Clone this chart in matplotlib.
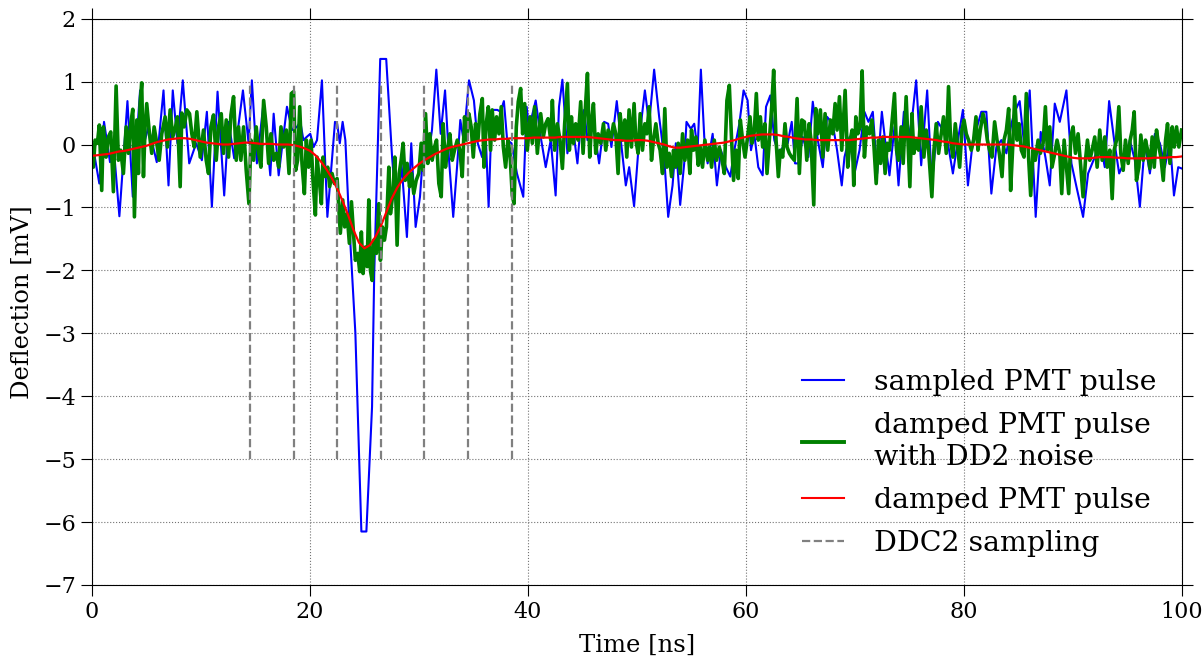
import numpy as np
import matplotlib
matplotlib.use("Agg")
import matplotlib.pyplot as plt
from matplotlib.lines import Line2D

plt.rcParams['font.family'] = 'serif'
plt.rcParams['font.serif'] = ['DejaVu Serif']

# sampled PMT pulse (vertices), time in ns, deflection in mV
blue_t = [0.0, 0.67, 1.10, 1.65, 1.96, 2.51, 3.25, 3.74, 4.41, 4.78, 5.18, 5.94, 6.56, 7.02, 7.41, 7.84,
          8.33, 8.92, 9.56, 10.08, 10.54, 11.00, 11.52, 12.13, 12.53, 13.05, 13.85, 14.37, 14.67, 15.13,
          15.75, 16.36, 16.67, 17.13, 17.89, 18.35, 18.81, 19.12, 19.40, 19.70, 20.03, 20.34, 20.65,
          21.10, 21.60, 22.30, 22.50, 22.74, 23.00, 23.25, 23.56, 24.17, 24.72, 25.18, 25.70, 25.90,
          26.20, 26.45, 27.00, 27.54, 27.98, 28.40, 28.90, 29.30, 29.70, 30.10, 30.45, 30.76, 31.20,
          31.60, 32.00, 32.40, 32.75, 33.15, 33.50, 33.80, 34.10, 34.60, 35.05, 35.40, 35.80, 36.10,
          36.40, 36.70, 37.20, 37.50, 37.80, 38.10, 38.50, 39.00, 39.58, 39.89, 40.10, 40.72, 41.18,
          41.64, 42.10, 42.55, 42.86, 43.17, 43.63, 44.09, 44.55, 44.85, 45.16, 45.47, 45.93, 46.54,
          47.00, 47.37, 47.67, 48.16, 48.53, 48.99, 49.30, 49.75, 50.21, 50.74, 51.13, 51.59, 52.05,
          52.51, 52.88, 53.28, 53.58, 53.98, 54.35, 54.56, 54.96, 55.27, 55.58, 55.88, 56.19, 56.50,
          56.96, 57.35, 57.72, 58.18, 58.58, 58.95, 59.41, 59.80, 60.17, 60.48, 60.78, 61.15, 61.55,
          61.86, 62.25, 62.62, 63.08, 63.54, 63.85, 64.22, 64.52, 64.83, 65.23, 65.75, 66.15, 66.61,
          67.07, 67.46, 67.98, 68.38, 68.81, 69.06, 69.52, 69.98, 70.44, 70.89, 71.26, 71.66, 72.06,
          72.49, 72.89, 73.19, 73.65, 74.02, 74.51, 74.88, 75.25, 75.64, 76.10, 76.65, 77.08, 77.63,
          78.09, 78.55, 79.01, 79.47, 79.93, 80.39, 80.85, 81.31, 81.62, 82.08, 82.54, 83.00, 83.46,
          83.92, 84.38, 84.68, 85.14, 85.60, 86.06, 86.61, 87.07, 87.50, 87.90, 88.36, 88.82, 89.43,
          89.89, 90.35, 90.96, 91.42, 92.03, 92.49, 92.95, 93.35, 93.81, 94.27, 94.79, 95.25, 95.71,
          96.17, 96.63, 97.09, 97.55, 98.01, 98.47, 98.93, 99.30, 99.69, 100.0]
blue_v = [0.05, -0.62, 0.36, -0.28, 0.02, -1.14, 0.69, -0.83, 0.86, 0.02, 0.28, -0.28, 0.86, -0.65, 0.86, 0.02,
          1.02, -0.30, 0.02, -0.25, 0.52, -0.99, 0.84, -0.81, 0.36, -0.22, 0.86, 0.02, 1.02, -0.30,
          0.68, -0.49, 0.49, -0.49, 0.60, 0.23, 0.28, 0.36, 0.07, 0.12, 0.17, -0.04, 0.07,
          1.02, -1.15, 0.36, 0.33, 0.02, 0.36, 0.07, -1.10, -3.00, -6.15, -6.15, -4.17, -2.05,
          -0.20, 1.36, 1.36, -0.20, -1.15, -0.30, -1.47, 0.02, -1.31, -0.83, 0.02, -0.30, 0.23,
          1.19, 0.17, 0.86, -0.20, -1.15, -0.36, 0.39, 0.07, 1.02, 0.70, 0.02, -0.20, 0.28,
          -0.99, 0.55, 0.55, 0.52, 0.69, 0.07, 0.02, -0.46, -0.83, 0.60, 0.25, 0.70, 0.12,
          -0.36, 0.07, -0.81, 0.60, 1.03, -0.14, 0.33, -0.30, 0.33, 0.55, 0.07, 0.44, -0.30,
          0.36, 0.33, -0.04, 0.69, 0.07, -0.65, -0.36, -0.98, 0.07, 0.86, 0.33, 1.19, 0.44,
          -0.20, -1.15, -0.65, 0.02, -0.96, -0.30, 0.36, 0.25, 0.33, -0.09, 1.19, 0.12, -0.30,
          0.17, -0.65, -0.09, -0.36, -0.51, -0.09, 0.33, 0.86, 0.70, -0.09, 0.17, -0.36, -0.49,
          0.60, 0.78, 0.07, -0.17, 0.02, 0.02, 0.36, -0.30, -0.30, 0.12, -0.20, 0.68, 0.07,
          -0.36, 0.44, 0.33, -0.09, -0.65, -0.20, 0.12, -0.46, -0.09, 0.52, 0.36, 0.52, -0.46,
          0.52, -0.09, -0.49, 0.28, -0.65, 0.52, 0.07, 0.39, 1.02, -0.33, 0.86, -0.62, 0.36,
          0.23, 0.02, -0.46, 0.07, 0.55, -0.65, 0.07, 0.33, 0.52, 0.52, -0.78, -0.04, 0.07,
          -0.14, 0.33, 0.52, 0.69, -0.09, 0.86, -1.15, 0.20, -0.20, -0.65, 0.65, 0.36, 0.86,
          -0.30, -0.67, -1.15, -0.46, -0.20, 0.07, -0.36, 0.69, 0.07, -0.46, -0.25, 0.07, -0.25,
          -0.99, 0.02, -0.46, 0.17, 0.02, -0.36, 0.07, -0.81, -0.36, -0.38]

# damped PMT pulse with DD2 noise
green_t = [0.0, 0.12, 0.28, 0.49, 0.67, 0.89, 1.04, 1.29, 1.50, 1.72, 1.96, 2.21, 2.42, 2.63, 2.88, 3.13,
           3.34, 3.55, 3.74, 3.89, 4.11, 4.26, 4.41, 4.56, 4.72, 4.87, 5.02, 5.27, 5.48, 5.70, 5.94,
           6.16, 6.40, 6.71, 6.92, 7.17, 7.41, 7.66, 7.84, 8.09, 8.24, 8.46, 8.70, 8.95, 9.16, 9.38,
           9.62, 9.93, 10.23, 10.48, 10.69, 10.91, 11.15, 11.40, 11.61, 11.86, 12.07, 12.32, 12.53,
           12.75, 12.99, 13.24, 13.45, 13.66, 13.91, 14.15, 14.40, 14.58, 14.83, 15.07, 15.29, 15.50,
           15.75, 15.99, 16.21, 16.42, 16.67, 16.91, 17.13, 17.34, 17.59, 17.83, 18.08, 18.29, 18.50,
           18.69, 18.87, 19.06, 19.27, 19.49, 19.67, 19.88, 20.10, 20.28, 20.50, 20.65, 20.86, 21.05,
           21.20, 21.41, 21.63, 21.81, 22.03, 22.24, 22.49, 22.64, 22.79, 23.01, 23.19, 23.41, 23.62,
           23.81, 24.02, 24.17, 24.39, 24.57, 24.72, 24.88, 25.09, 25.25, 25.40, 25.55, 25.71, 25.86,
           26.10, 26.32, 26.47, 26.65, 26.84, 27.02, 27.24, 27.39, 27.61, 27.79, 28.00, 28.19, 28.37,
           28.55, 28.74, 28.92, 29.14, 29.32, 29.53, 29.75, 29.99, 30.21, 30.39, 30.61, 30.82, 31.00,
           31.22, 31.43, 31.62, 31.83, 32.05, 32.23, 32.44, 32.66, 32.84, 33.06, 33.27, 33.52, 33.76,
           33.98, 34.19, 34.38, 34.59, 34.80, 34.99, 35.20, 35.42, 35.60, 35.82, 35.97, 36.18, 36.37,
           36.58, 36.73, 36.95, 37.13, 37.35, 37.56, 37.75, 37.96, 38.17, 38.36, 38.57, 38.73, 38.94,
           39.12, 39.34, 39.52, 39.71, 39.95, 40.20, 40.41, 40.62, 40.87, 41.18, 41.42, 41.64, 41.85,
           42.10, 42.25, 42.46, 42.71, 42.95, 43.17, 43.38, 43.63, 43.81, 44.00, 44.18, 44.39, 44.61,
           44.85, 45.07, 45.25, 45.47, 45.68, 45.86, 46.02, 46.23, 46.45, 46.69, 46.94, 47.15, 47.37,
           47.61, 47.86, 48.07, 48.28, 48.47, 48.68, 48.90, 49.08, 49.29, 49.51, 49.75, 49.91, 50.12,
           50.31, 50.52, 50.74, 50.92, 51.13, 51.35, 51.53, 51.75, 51.96, 52.14, 52.36, 52.57, 52.76,
           52.97, 53.19, 53.37, 53.58, 53.80, 53.98, 54.20, 54.41, 54.66, 54.87, 55.02, 55.21, 55.42,
           55.64, 55.82, 56.03, 56.25, 56.50, 56.68, 56.86, 57.11, 57.32, 57.57, 57.78, 58.03, 58.27,
           58.49, 58.70, 58.88, 59.10, 59.31, 59.50, 59.71, 59.93, 60.17, 60.39, 60.57, 60.78, 60.97,
           61.15, 61.34, 61.55, 61.76, 61.95, 62.16, 62.38, 62.56, 62.78, 62.99, 63.17, 63.39, 63.60,
           63.79, 64.00, 64.22, 64.46, 64.71, 64.92, 65.14, 65.38, 65.60, 65.81, 65.99, 66.24, 66.42,
           66.61, 66.85, 67.07, 67.28, 67.52, 67.77, 67.98, 68.20, 68.38, 68.60, 68.81, 69.12, 69.36,
           69.58, 69.76, 69.91, 70.10, 70.28, 70.49, 70.68, 70.89, 71.11, 71.35, 71.57, 71.75, 71.97,
           72.18, 72.37, 72.58, 72.79, 72.98, 73.19, 73.41, 73.65, 73.84, 74.02, 74.26, 74.45, 74.72,
           74.88, 75.06, 75.25, 75.43, 75.64, 75.86, 76.10, 76.35, 76.56, 76.78, 77.08, 77.27, 77.48,
           77.70, 77.94, 78.15, 78.40, 78.61, 78.80, 79.01, 79.23, 79.41, 79.63, 79.84, 80.03, 80.24,
           80.45, 80.70, 80.91, 81.13, 81.31, 81.53, 81.77, 81.99, 82.17, 82.38, 82.60, 82.84, 83.06,
           83.27, 83.52, 83.70, 83.92, 84.13, 84.31, 84.50, 84.68, 84.90, 85.08, 85.29, 85.54, 85.75,
           85.97, 86.15, 86.37, 86.58, 86.83, 87.04, 87.29, 87.50, 87.68, 87.90, 88.11, 88.36, 88.57,
           88.82, 89.00, 89.22, 89.43, 89.64, 89.83, 90.04, 90.26, 90.50, 90.75, 90.96, 91.18, 91.36,
           91.57, 91.79, 92.03, 92.25, 92.49, 92.71, 92.95, 93.17, 93.41, 93.63, 93.81, 94.03, 94.24,
           94.42, 94.64, 94.85, 95.10, 95.28, 95.47, 95.65, 95.86, 96.08, 96.26, 96.48, 96.69, 96.88,
           97.09, 97.30, 97.49, 97.70, 97.92, 98.10, 98.32, 98.53, 98.71, 98.93, 99.14, 99.33, 99.54,
           99.75, 100.0]
green_v = [-0.25, -0.36, 0.07, 0.02, 0.31, -0.73, 0.28, -0.20, 0.12, 0.20, -0.75, 0.93, -0.25, -0.09, -0.46, 0.28,
           -0.14, 0.33, 0.56, -1.15, 0.39, -0.46, 0.65, 0.98, -0.51, 0.28, 0.65, 0.17, -0.14, 0.28, 0.02,
           -0.25, 0.17, 0.44, -0.04, 0.55, 0.12, 0.28, 0.44, -0.67, 0.50, 0.28, 0.55, 0.49, 0.17, -0.04,
           0.52, -0.20, 0.23, -0.25, -0.46, 0.28, 0.47, -0.25, 0.28, 0.49, -0.14, 0.39, -0.20,
           0.47, 0.76, -0.25, 0.28, -0.25, 0.28, -0.41, -0.94, 0.07, -0.25, 0.28, -0.14, -0.36,
           0.70, 0.28, -0.30, 0.17, -0.25, -0.14, -0.36, 0.28, -0.04, 0.23, -0.46, 0.81, 0.84,
           -0.41, -0.25, 0.60, -0.30, -0.78, 0.07, -0.36, 0.07, -0.57, -1.12, -0.20, -0.57, -0.94,
           -0.20, -0.51, -0.36, -0.67, -0.46, -0.62, -0.54, -0.99, -1.41, -0.88, -1.31, -1.10, -1.57,
           -0.91, -1.47, -1.84, -1.73, -2.02, -1.39, -2.05, -1.63, -1.94, -0.88, -2.00, -2.16, -1.52,
           -1.73, -0.94, -1.84, -1.31, -1.52, -1.31, -0.36, -1.10, -0.78, -0.20, -1.60, -0.46, -0.25,
           0.02, -0.57, -0.30, -0.67, -0.46, -0.78, -0.57, -0.46, 0.02, -0.41, 0.49, -0.30, 0.17,
           -0.25, -0.04, 0.07, -0.62, -0.83, 0.33, -0.36, -0.04, 0.17, -0.25, -0.09, 0.07, -0.09,
           -0.51, 0.44, 0.07, 0.49, 0.28, -0.20, 0.33, 0.07, 0.49, 0.73, -0.36, 0.33, 0.60,
           -0.09, 0.55, 0.07, 0.44, 0.17, 0.60, -0.04, -0.36, 0.07, -0.14, -0.81, -0.94, 0.28,
           0.68, 0.89, 0.17, 0.65, -0.09, 0.44, 0.02, 0.60, -0.14, 0.49, 0.12, 0.33, 0.41,
           0.07, 0.70, -0.09, 0.33, 0.07, -0.38, 0.33, 0.97, -0.09, 0.44, 0.02, 0.33, 0.07,
           0.68, -0.14, 0.49, 1.13, -0.20, 0.39, 0.65, -0.14, 0.17, 0.02, 0.33, -0.09, 0.23,
           0.07, 0.33, 0.17, -0.46, 0.49, 0.07, 0.39, -0.20, 0.55, -0.04, 0.65, 0.07, -0.14,
           0.49, -0.09, 0.33, 0.17, 0.60, -0.25, 0.07, 0.33, 0.02, -0.09, -0.46, 0.57, -0.36,
           -0.14, -0.51, -0.09, -0.36, 0.02, -0.46, 0.17, -0.25, 0.07, -0.46, 0.23, -0.09, 0.12,
           -0.33, -0.04, -0.36, 0.07, -0.25, -0.04, -0.36, 0.07, -0.25, -0.04, -0.20, -0.46, 0.70,
           0.94, 0.07, -0.57, -0.09, -0.54, 0.39, 0.07, -0.20, 0.12, 0.44, 0.02, 0.20, 0.81,
           0.07, 0.44, -0.04, 0.33, -0.46, 0.07, 0.60, 1.18, 0.07, -0.51, -0.09, -0.20, 0.33,
           -0.04, -0.14, -0.20, -0.25, 0.73, -0.46, 0.39, 0.36, -0.25, 0.33, 0.07, -0.96, 0.57,
           0.17, 0.55, -0.20, 0.49, -0.09, 0.39, 0.17, 0.65, 0.23, 0.76, -0.09, 0.86, -0.36,
           0.07, 0.23, -0.65, 0.44, 0.17, 0.28, 1.17, -0.20, 0.28, 0.17, 0.39, 0.02, -0.62,
           0.07, -0.30, 0.12, -0.46, 0.02, -0.09, 0.33, 0.81, -0.09, -0.25, 0.28, -0.30, 0.76,
           0.07, -0.67, 0.49, -0.14, 0.07, -0.09, 0.60, -0.20, 0.23, -0.09, -0.83, -0.09, 0.33,
           -0.14, 0.17, 0.44, -0.14, 0.92, 0.07, -0.20, 0.33, 0.02, -0.36, 0.23, 0.39, 0.17,
           0.07, -0.09, 0.07, 0.44, -0.09, 0.23, 0.49, 0.33, 0.07, -0.09, -0.20, 0.36, 0.07,
           -0.14, -0.51, 0.07, 0.23, 0.57, -0.73, -0.04, 0.76, 0.07, 0.33, -0.09, -0.20, 0.81,
           -0.25, -0.81, -0.09, -0.25, 0.07, -0.14, 0.02, 0.60, -0.09, 0.28, -0.36, -0.14, 0.07,
           -0.14, -0.78, 0.07, -0.36, -0.78, 0.12, 0.28, -0.14, 0.17, -0.36, -0.83, -0.25, 0.07,
           -0.25, -0.09, 0.12, -0.36, 0.23, -0.25, 0.12, -0.36, -0.09, -0.86, -0.09, 0.07, 0.60,
           -0.14, -0.41, 0.07, -0.30, 0.07, 0.23, 0.52, -0.57, -0.36, 0.15, -0.25, 0.07, -0.09,
           -0.38, 0.12, -0.36, 0.23, -0.04, -0.20, -0.57, 0.07, 0.33, -0.30, 0.28, -0.04, 0.28,
           -0.04, 0.23]

# damped PMT pulse, every 0.5 ns
red_t = np.arange(0, 100.25, 0.5)
red_v = [-0.18, -0.17, -0.16, -0.15, -0.13, -0.11, -0.10, -0.08, -0.06, -0.04, -0.02, 0.01, 0.04, 0.06,
         0.08, 0.09, 0.10, 0.10, 0.09, 0.07, 0.05, 0.03, 0.02, 0.01, 0.00, 0.00, 0.01, 0.02, 0.03, 0.03,
         0.02, 0.01, 0.01, 0.01, 0.00, 0.00, 0.00, -0.01, -0.03, -0.06, -0.10, -0.17, -0.27, -0.39,
         -0.53, -0.70, -0.90, -1.12, -1.36, -1.56, -1.65, -1.60, -1.47, -1.30, -1.08, -0.86, -0.69,
         -0.56, -0.46, -0.38, -0.31, -0.25, -0.20, -0.15, -0.11, -0.07, -0.04, -0.02, 0.00, 0.02,
         0.04, 0.06, 0.07, 0.08, 0.08, 0.09, 0.09, 0.10, 0.10, 0.10, 0.10, 0.11, 0.11, 0.11, 0.11,
         0.11, 0.12, 0.12, 0.12, 0.12, 0.12, 0.12, 0.11, 0.10, 0.09, 0.08, 0.07, 0.07, 0.06, 0.06,
         0.07, 0.07, 0.06, 0.04, 0.02, 0.00, -0.03, -0.05, -0.05, -0.04, -0.03, -0.02, -0.01, 0.00,
         0.01, 0.02, 0.03, 0.05, 0.07, 0.10, 0.12, 0.14, 0.15, 0.16, 0.16, 0.16, 0.15, 0.13, 0.12,
         0.10, 0.09, 0.08, 0.08, 0.07, 0.07, 0.07, 0.07, 0.07, 0.07, 0.07, 0.08, 0.09, 0.10, 0.11,
         0.11, 0.12, 0.12, 0.12, 0.12, 0.12, 0.12, 0.11, 0.10, 0.09, 0.08, 0.07, 0.05, 0.04, 0.02,
         0.01, 0.00, 0.00, 0.00, 0.00, 0.00, 0.00, 0.00, 0.00, 0.00, -0.01, -0.02, -0.03, -0.05,
         -0.07, -0.09, -0.11, -0.13, -0.15, -0.17, -0.19, -0.21, -0.22, -0.22, -0.22, -0.21, -0.20,
         -0.20, -0.20, -0.21, -0.21, -0.22, -0.22, -0.22, -0.22, -0.22, -0.21, -0.21, -0.21, -0.20,
         -0.20, -0.19]

# DDC2 sampling instants
ddc2_t = [14.5, 18.5, 22.5, 26.5, 30.5, 34.5, 38.5]
ddc2_low = -5
ddc2_high = 1

fig = plt.figure(figsize=(12.03, 6.57), dpi=100)
ax = fig.add_axes([0.0765, 0.1096, 0.9057, 0.862])

ax.plot(blue_t, blue_v, color='b', lw=1.5)
ax.plot(green_t, green_v, color='g', lw=2.6)
ax.plot(red_t, red_v, color='r', lw=1.6)
ax.vlines(ddc2_t, ddc2_low, ddc2_high, colors='0.5', linestyles='dashed', lw=1.6)

ax.set_xlim(0, 100)
ax.set_ylim(-7, 2)
ax.set_xticks([0, 20, 40, 60, 80, 100])
ax.set_yticks(range(-7, 3))
ax.grid(True, color='0.45', linestyle=':', lw=0.8)
ax.tick_params(direction='out', length=8, width=0.8, labelsize=16, top=True, right=True)
ax.set_xlabel('Time [ns]', fontsize=17.5, labelpad=8)
ax.set_ylabel('Deflection [mV]', fontsize=17.5, labelpad=7)

handles = [Line2D([], [], color='b', lw=1.5),
           Line2D([], [], color='g', lw=2.8),
           Line2D([], [], color='r', lw=1.5),
           Line2D([], [], color='0.5', lw=1.6, ls='--')]
labels = ['sampled PMT pulse', 'damped PMT pulse\nwith DD2 noise', 'damped PMT pulse', 'DDC2 sampling']
leg = ax.legend(handles, labels, loc='lower right', frameon=False, fontsize=20.4,
                handlelength=1.45, handletextpad=1.06, labelspacing=0.56, borderpad=0.4,
                bbox_to_anchor=(1.0, 0.004))
for txt in leg.get_texts():
    txt.set_linespacing(1.27)

fig.savefig('out.png', dpi=100)
